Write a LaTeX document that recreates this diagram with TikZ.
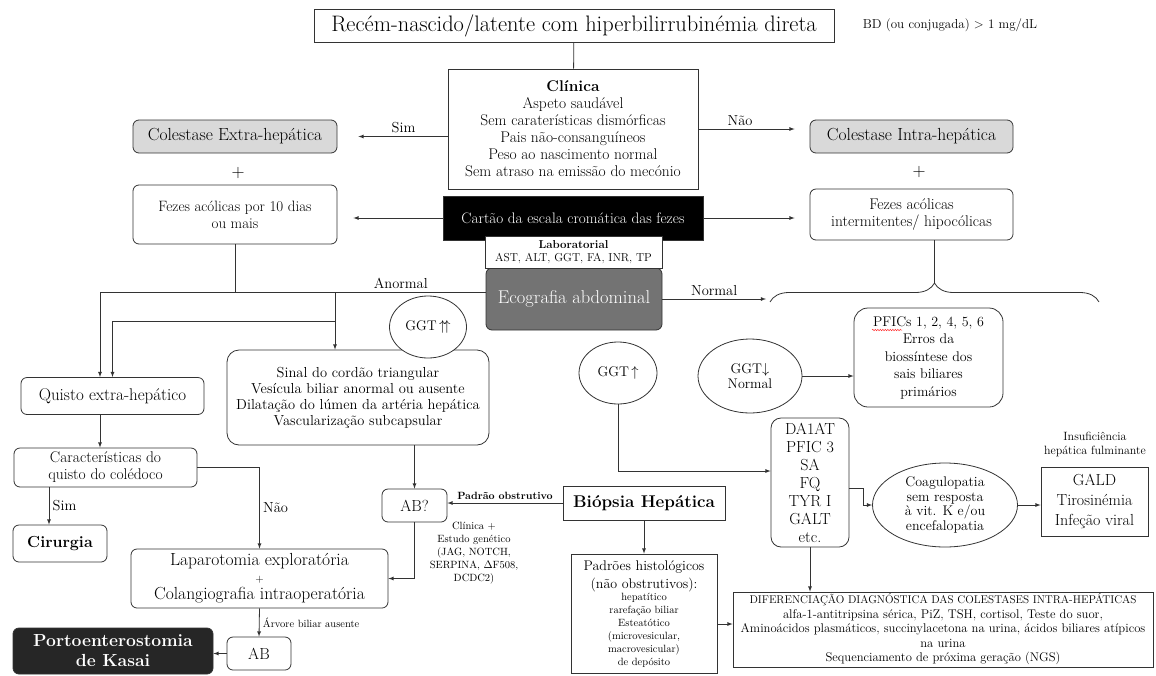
\documentclass[tikz,border=0pt]{standalone}
\usepackage{amssymb}
\usetikzlibrary{shapes.geometric,decorations.pathreplacing,decorations.pathmorphing}
\newcommand{\fsz}[2]{\fontsize{#1}{#2}\selectfont}

\begin{document}
\begin{tikzpicture}[>=latex, x=1pt, y=-1pt, line width=.8pt, draw=black!80,
  sz/.style 2 args={minimum width=#1pt, minimum height=#2pt},
  box/.style={draw=black!80, align=center, inner sep=0pt, fill=white},
  rbox/.style={box, rounded corners=6pt},
  oval/.style={draw=black!80, ellipse, align=center, inner sep=0pt, fill=white},
  lbl/.style={font=\fsz{14.5}{16}},
  small/.style={font=\fsz{10.5}{13}, align=center}]
\useasboundingbox (0,0) rectangle (1156,675);

\node[box, sz={520}{33}, font=\fsz{22.4}{24}] (title) at (574,25.5) {Recém-nascido/latente com hiperbilirrubinémia direta};
\node[font=\fsz{13}{15}] (bd) at (950,25) {BD (ou conjugada) > 1 mg/dL};
\node[box, sz={250}{120}, font=\fsz{15.5}{17}] (clin) at (573,129) {{\bfseries Clínica}\\Aspeto saudável\\Sem caraterísticas dismórficas\\Pais não-consanguíneos\\Peso ao nascimento normal\\Sem atraso na emissão do mecónio};
\node[rbox, fill=black!15, sz={204}{33}, font=\fsz{17.5}{19}] (extra) at (235,136.5) {Colestase Extra-hepática};
\node[rbox, fill=black!15, sz={203}{33}, font=\fsz{17.5}{19}] (intra) at (911.5,136.5) {Colestase Intra-hepática};
\node[font=\fsz{18}{18}] (plusL) at (238,173) {+};
\node[font=\fsz{18}{18}] (plusR) at (919,172) {+};
\node[rbox, sz={204}{59}, font=\fsz{15}{17}] (fezL) at (235,214.5) {Fezes acólicas por 10 dias\\ou mais};
\node[rbox, sz={203}{51}, font=\fsz{15.5}{17}] (fezR) at (911.5,214.5) {Fezes acólicas\\intermitentes/ hipocólicas};
\node[box, fill=black, text=white, sz={260}{44}, font=\fsz{15.2}{17}] (cartao) at (573,218) {Cartão da escala cromática das fezes};
\node[rbox, fill=black!55, text=white, sz={176}{62}, font=\fsz{18.5}{20}] (eco) at (574,299) {Ecografia abdominal};
\node[box, sz={177}{32}, font=\fsz{11.5}{13.5}] (lab) at (573.5,252) {{\bfseries Laboratorial}\\AST, ALT, GGT, FA, INR, TP};

\node[rbox, sz={183}{37}, font=\fsz{17}{18}] (quisto) at (112.5,396) {Quisto extra-hepático};
\node[rbox, rounded corners=12pt, sz={262}{95}, font=\fsz{14.5}{16}] (sinal) at (358,397.5) {Sinal do cordão triangular\\Vesícula biliar anormal ou ausente\\Dilatação do lúmen da artéria hepática\\Vascularização subcapsular};
\node[oval, sz={77}{62}, font=\fsz{14}{15}] (ggtA) at (428,327) {GGT\,$\big\uparrow\hspace{-3pt}\big\uparrow$};
\node[oval, sz={78}{62}, font=\fsz{14}{15}] (ggtB) at (618,373) {GGT\,$\big\uparrow$};
\node[oval, sz={104}{74}, font=\fsz{14}{15}] (ggtC) at (750,376) {GGT$\downarrow$\\Normal};
\node[rbox, rounded corners=14pt, sz={149}{99}, font=\fsz{14}{17.5}] (pfic) at (928.5,357.5) {PFICs 1, 2, 4, 5, 6\\Erros da\\biossíntese dos\\sais biliares\\primários};

\node[rbox, sz={183}{39}, font=\fsz{15.5}{17}] (carac) at (105.5,467.5) {Características do\\quisto do colédoco};
\node[rbox, sz={94}{37}, font=\fsz{16}{18}\bfseries] (cir) at (60,543.5) {Cirurgia};
\node[rbox, sz={257}{59}, font=\fsz{17.5}{17}] (lap) at (259.5,578.5) {Laparotomia exploratória\\{\fsz{11}{17}+}\\Colangiografia intraoperatória};
\node[rbox, sz={64}{33}, font=\fsz{16}{18}] (ab) at (259,653.5) {AB};
\node[rbox, fill=black!85, text=white, sz={200}{46}, font=\fsz{17.5}{20}\bfseries] (kasai) at (113,651) {Portoenterostomia\\de Kasai};
\node[rbox, sz={65}{33}, font=\fsz{16}{18}] (abq) at (414.5,505.5) {AB?};
\node[small] (gen) at (474,553) {Clínica +\\Estudo genético\\(JAG, NOTCH,\\SERPINA, $\Delta$F508,\\DCDC2)};
\node[box, sz={162}{34}, font=\fsz{17}{19}\bfseries] (biop) at (644,503) {Biópsia Hepática};
\node[box, sz={146}{119}] (padr) at (644,613.5) {};
\node[font=\fsz{14}{18}, align=center] (padrT) at (644,576) {Padrões histológicos\\(não obstrutivos):};
\node[small] (padrS) at (644,630) {hepatítico\\rarefação biliar\\Esteatótico\\(microvesicular,\\macrovesicular)\\de depósito};

\node[rbox, rounded corners=10pt, sz={78}{129}, font=\fsz{16}{18}] (da) at (810,482.5) {DA1AT\\PFIC 3\\SA\\FQ\\TYR I\\GALT\\etc.};
\node[oval, sz={145}{84}, font=\fsz{14}{14.5}] (coag) at (945,505) {Coagulopatia\\sem resposta\\à vit. K e/ou\\encefalopatia};
\node[box, sz={107}{69}, font=\fsz{16}{20}] (gald) at (1094.5,501.5) {GALD\\Tirosinémia\\Infeção viral};
\node[font=\fsz{12}{14}, align=center] (insuf) at (1095,444) {Insuficiência\\hepática fulminante};
\node[box, sz={420}{75}, font=\fsz{12.6}{14.5}] (difer) at (943,629.5) {{\fsz{11.2}{14.5}DIFERENCIAÇÃO DIAGNÓSTICA DAS COLESTASES INTRA-HEPÁTICAS}\\alfa-1-antitripsina sérica, PiZ, TSH, cortisol, Teste do suor,\\Aminoácidos plasmáticos, succinylacetona na urina, ácidos biliares atípicos\\na urina\\Sequenciamento de próxima geração (NGS)};

\coordinate (an) at ([yshift=7pt]eco.west);
\coordinate (an2) at (335,321);
\coordinate (brL) at (766,299);
\coordinate (brtip) at (934.5,283);
\coordinate (dfin) at ([yshift=5.5pt]difer.west);

\draw (title) -- (clin);
\draw[->, shorten >=21pt] (clin.west |- extra.east) -- node[lbl, above, pos=.4]{Sim} (extra.east);
\draw[->, shorten >=15pt] (clin.east) -- node[lbl, above, pos=.375]{Não} (clin.east -| intra.west);
\draw[->, shorten >=16pt] (cartao.west) -- (cartao.west -| fezL.east);
\draw[->, shorten >=15pt] (cartao.east) -- (cartao.east -| fezR.west);
\draw (fezL.south) -- (fezL.south |- an);
\draw[->] (an) -- node[lbl, above, pos=.22]{Anormal} ([xshift=-12.5pt]quisto.north |- an) -- ([xshift=-12.5pt]quisto.north);
\draw[->] (an2 |- an) -- (an2 |- sinal.north);
\draw[->] (an2) -| (quisto.north);
\draw[->] (eco.east) -- node[lbl, above]{Normal} (brL);
\draw[decorate, decoration={brace, amplitude=19pt}] (770,302) -- (1099,302);
\draw (fezR.south -| brtip) -- (brtip);
\draw[red!80, line width=.5pt, decorate, decoration={snake, amplitude=.7pt, segment length=2.5pt}] (872,330) -- (902,330);

\draw[->] ([xshift=-12.5pt]quisto.south) -- ([xshift=-12.5pt]quisto.south |- carac.north);
\draw[->] ([xshift=-11pt]cir.north |- carac.south) -- node[lbl, right]{Sim} ([xshift=-11pt]cir.north);
\draw[->] (carac.east) -| node[lbl, pos=.75, right]{Não} (lap.north);
\draw[->] (lap.south) -- node[font=\fsz{10.5}{12}, right]{Árvore biliar ausente} (ab.north);
\draw[->] (ab.west) -- (ab.west -| kasai.east);
\draw[->] (abq.north |- sinal.south) -- (abq.north);
\draw[->] (biop.west) -- node[font=\fsz{10.5}{12}\bfseries, above]{Padrão obstrutivo} (biop.west -| abq.east);
\draw[->] (abq.south) |- (lap.east);
\draw[->] (biop.south) -- (padr.north);
\draw[->] (padr.east |- dfin) -- (dfin);
\draw[->] (ggtB.south) |- ([yshift=11.5pt]da.west);
\draw[->] (ggtC.east) -- (ggtC.east -| pfic.west);
\draw[->] ([yshift=-5.5pt]da.east) -- ++(14,0) |- (coag.west);
\draw[->] (coag.east) -- (coag.east -| gald.west);
\draw[->] (da.south) -- (da.south |- difer.north);

\end{tikzpicture}
\end{document}
